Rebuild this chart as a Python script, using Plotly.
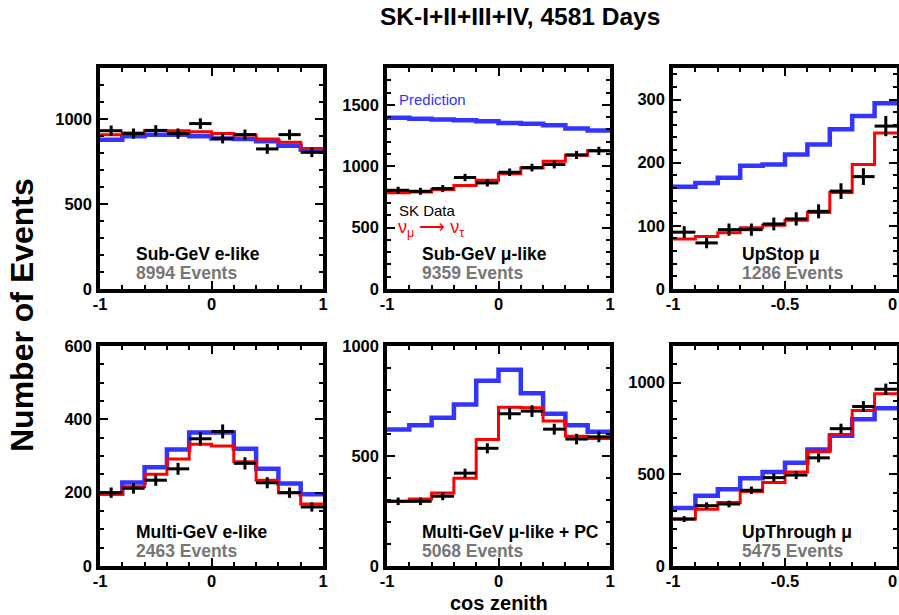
import numpy as np
import plotly.graph_objects as go

W, H = 899, 615

# ---------------- data ----------------
edges_full = [-1.0, -0.8, -0.6, -0.4, -0.2, 0.0, 0.2, 0.4, 0.6, 0.8, 1.0]
edges_half = [-1.0, -0.9, -0.8, -0.7, -0.6, -0.5, -0.4, -0.3, -0.2, -0.1, 0.0]

panel_names = ["Sub-GeV e-like", "Sub-GeV \u03bc-like", "UpStop \u03bc",
               "Multi-GeV e-like", "Multi-GeV \u03bc-like + PC", "UpThrough \u03bc"]
panel_events = ["8994 Events", "9359 Events", "1286 Events",
                "2463 Events", "5068 Events", "5475 Events"]

subgev_e_pred = [878, 898, 908, 908, 898, 886, 882, 869, 843, 820]
subgev_e_osc = [908, 918, 933, 931, 925, 914, 906, 882, 863, 827]
subgev_e_data = [931, 914, 933, 914, 973, 886, 908, 824, 908, 804]

subgev_mu_pred = [1394, 1386, 1380, 1375, 1367, 1353, 1345, 1334, 1307, 1291]
subgev_mu_osc = [783, 791, 810, 842, 886, 938, 986, 1041, 1090, 1128]
subgev_mu_data = [804, 796, 818, 908, 864, 951, 989, 1014, 1092, 1125]

upstop_pred = [162, 168, 176, 195, 197, 213, 229, 253, 274, 294]
upstop_osc = [79, 83, 89, 97, 101, 109, 121, 153, 197, 247]
upstop_data = [90, 73, 94, 94, 103, 111, 123, 155, 178, 258]

multigev_e_pred = [198, 228, 269, 318, 364, 364, 320, 265, 225, 196]
multigev_e_osc = [196, 216, 250, 292, 332, 327, 284, 234, 200, 169]
multigev_e_data = [200, 212, 234, 265, 347, 367, 280, 227, 200, 161]

multigev_mu_pred = [620, 640, 674, 734, 842, 892, 785, 692, 640, 610]
multigev_mu_osc = [294, 305, 332, 399, 575, 722, 719, 659, 590, 580]
multigev_mu_data = [294, 294, 317, 422, 535, 692, 704, 622, 577, 587]

upthru_pred = [316, 383, 419, 478, 513, 563, 635, 711, 801, 861]
upthru_osc = [256, 310, 347, 406, 455, 513, 623, 717, 848, 939]
upthru_data = [256, 329, 338, 413, 482, 496, 590, 749, 870, 964]

panels = [
    (edges_full, subgev_e_pred, subgev_e_osc, subgev_e_data),
    (edges_full, subgev_mu_pred, subgev_mu_osc, subgev_mu_data),
    (edges_half, upstop_pred, upstop_osc, upstop_data),
    (edges_full, multigev_e_pred, multigev_e_osc, multigev_e_data),
    (edges_full, multigev_mu_pred, multigev_mu_osc, multigev_mu_data),
    (edges_half, upthru_pred, upthru_osc, upthru_data),
]

y_ranges = [[0, 1300], [0, 1800], [0, 350], [0, 600], [0, 1000], [0, 1200]]
y_dticks = [500, 500, 100, 200, 500, 500]
y_minor = [100, 100, 20, 50, 100, 100]

# ---------------- layout geometry (window pixels) ----------------
col_px = [(100, 323), (387, 610), (673, 897)]
row_px = [(68, 289), (346, 566)]


def PX(x):
    return x / W


def PY(y):
    return 1 - y / H


BLUE = "#3434ff"
RED = "#ff0000"
GRAY = "#777777"
FONT = "Liberation Sans"
TICKFONT = dict(family=FONT, size=16.5, color="black", weight="bold")

fig = go.Figure()
layout = dict(
    width=W, height=H, margin=dict(l=0, r=0, t=0, b=0, autoexpand=False),
    paper_bgcolor="white", plot_bgcolor="white", showlegend=False,
    font=dict(family=FONT, color="black"),
)

annotations = []
for i, (edges, pred, osc, data) in enumerate(panels):
    r, c = divmod(i, 3)
    ax = "" if i == 0 else str(i + 1)
    xa, ya = "x" + ax, "y" + ax
    x0, x1 = col_px[c]
    yt, yb = row_px[r]
    width_bin = edges[1] - edges[0]
    centers = [(edges[k] + edges[k + 1]) / 2 for k in range(len(edges) - 1)]

    fig.add_trace(go.Scatter(x=edges, y=list(pred) + [pred[-1]], mode="lines",
                             line=dict(color=BLUE, width=4.5, shape="hv"),
                             xaxis=xa, yaxis=ya, hoverinfo="skip"))
    fig.add_trace(go.Scatter(x=edges, y=list(osc) + [osc[-1]], mode="lines",
                             line=dict(color=RED, width=3, shape="hv"),
                             xaxis=xa, yaxis=ya, hoverinfo="skip"))
    fig.add_trace(go.Scatter(
        x=centers, y=data, mode="markers",
        marker=dict(size=2, color="black"),
        error_x=dict(type="constant", value=width_bin / 2, thickness=3, width=0, color="black"),
        error_y=dict(type="data", array=np.sqrt(np.array(data, dtype=float)),
                     thickness=3, width=0, color="black"),
        xaxis=xa, yaxis=ya, hoverinfo="skip"))

    is_half = edges[-1] == 0.0
    common = dict(showline=True, linewidth=3.5, linecolor="black", mirror="allticks",
                  ticks="inside", ticklen=8, tickwidth=1.5, tickcolor="black",
                  showgrid=False, zeroline=False, automargin=False,
                  tickfont=TICKFONT)
    layout["xaxis" + ax] = dict(
        domain=[PX(x0), min(PX(x1), 1.0)], anchor=ya,
        range=[edges[0], edges[-1]],
        tickvals=[-1, -0.5, 0] if is_half else [-1, 0, 1],
        ticktext=["-1", "-0.5", "0"] if is_half else ["-1", "0", "1"],
        minor=dict(dtick=0.1 if is_half else 0.2, ticks="inside", ticklen=4,
                   tickwidth=1.5, tickcolor="black", showgrid=False),
        ticklabelstandoff=-3,
        **common)
    layout["yaxis" + ax] = dict(
        domain=[PY(yb), PY(yt)], anchor=xa,
        range=y_ranges[i], dtick=y_dticks[i], tick0=0,
        minor=dict(dtick=y_minor[i], ticks="inside", ticklen=4,
                   tickwidth=1.5, tickcolor="black", showgrid=False),
        ticklabelstandoff=1,
        **common)

    if is_half:
        # right-edge tick label "0" at the page edge
        annotations.append(dict(x=1.0, xref="paper", y=PY(yb + 4), yref="paper",
                                text="0", showarrow=False, xanchor="right",
                                yanchor="top", font=TICKFONT))

    # labels inside panel
    lx = [134, 420, 740][c]
    ly1 = [254, 532][r]
    annotations.append(dict(x=PX(lx), y=PY(ly1), xref="paper", yref="paper",
                            text=panel_names[i], showarrow=False, xanchor="left",
                            yanchor="middle",
                            font=dict(family=FONT, size=17.5, color="black", weight="bold")))
    annotations.append(dict(x=PX(lx), y=PY(ly1 + 18.5), xref="paper", yref="paper",
                            text=panel_events[i], showarrow=False, xanchor="left",
                            yanchor="middle",
                            font=dict(family=FONT, size=17.5, color=GRAY, weight="bold")))

# legend-like texts in Sub-GeV mu-like panel
annotations.append(dict(x=PX(397), y=PY(99), xref="paper", yref="paper",
                        text="Prediction", showarrow=False, xanchor="left", yanchor="middle",
                        font=dict(family=FONT, size=15, color=BLUE)))
annotations.append(dict(x=PX(397), y=PY(211), xref="paper", yref="paper",
                        text="SK Data", showarrow=False, xanchor="left", yanchor="middle",
                        font=dict(family=FONT, size=15, color="black")))
annotations.append(dict(x=PX(396), y=PY(229), xref="paper", yref="paper",
                        text="\u03bd<sub>\u03bc</sub> \u27f6 \u03bd<sub>\u03c4</sub>",
                        showarrow=False, xanchor="left", yanchor="middle",
                        font=dict(family=FONT, size=18, color=RED)))

# global titles
annotations.append(dict(x=PX(520), y=PY(17), xref="paper", yref="paper",
                        text="SK-I+II+III+IV, 4581 Days", showarrow=False,
                        xanchor="center", yanchor="middle",
                        font=dict(family=FONT, size=24.5, color="black", weight="bold")))
annotations.append(dict(x=PX(22), y=PY(315), xref="paper", yref="paper",
                        text="Number of Events", showarrow=False, textangle=-90,
                        xanchor="center", yanchor="middle",
                        font=dict(family=FONT, size=32, color="black", weight="bold")))
annotations.append(dict(x=PX(499), y=PY(603), xref="paper", yref="paper",
                        text="cos zenith", showarrow=False,
                        xanchor="center", yanchor="middle",
                        font=dict(family=FONT, size=20, color="black", weight="bold")))

layout["annotations"] = annotations
fig.update_layout(**layout)
fig.write_html("out.html")
